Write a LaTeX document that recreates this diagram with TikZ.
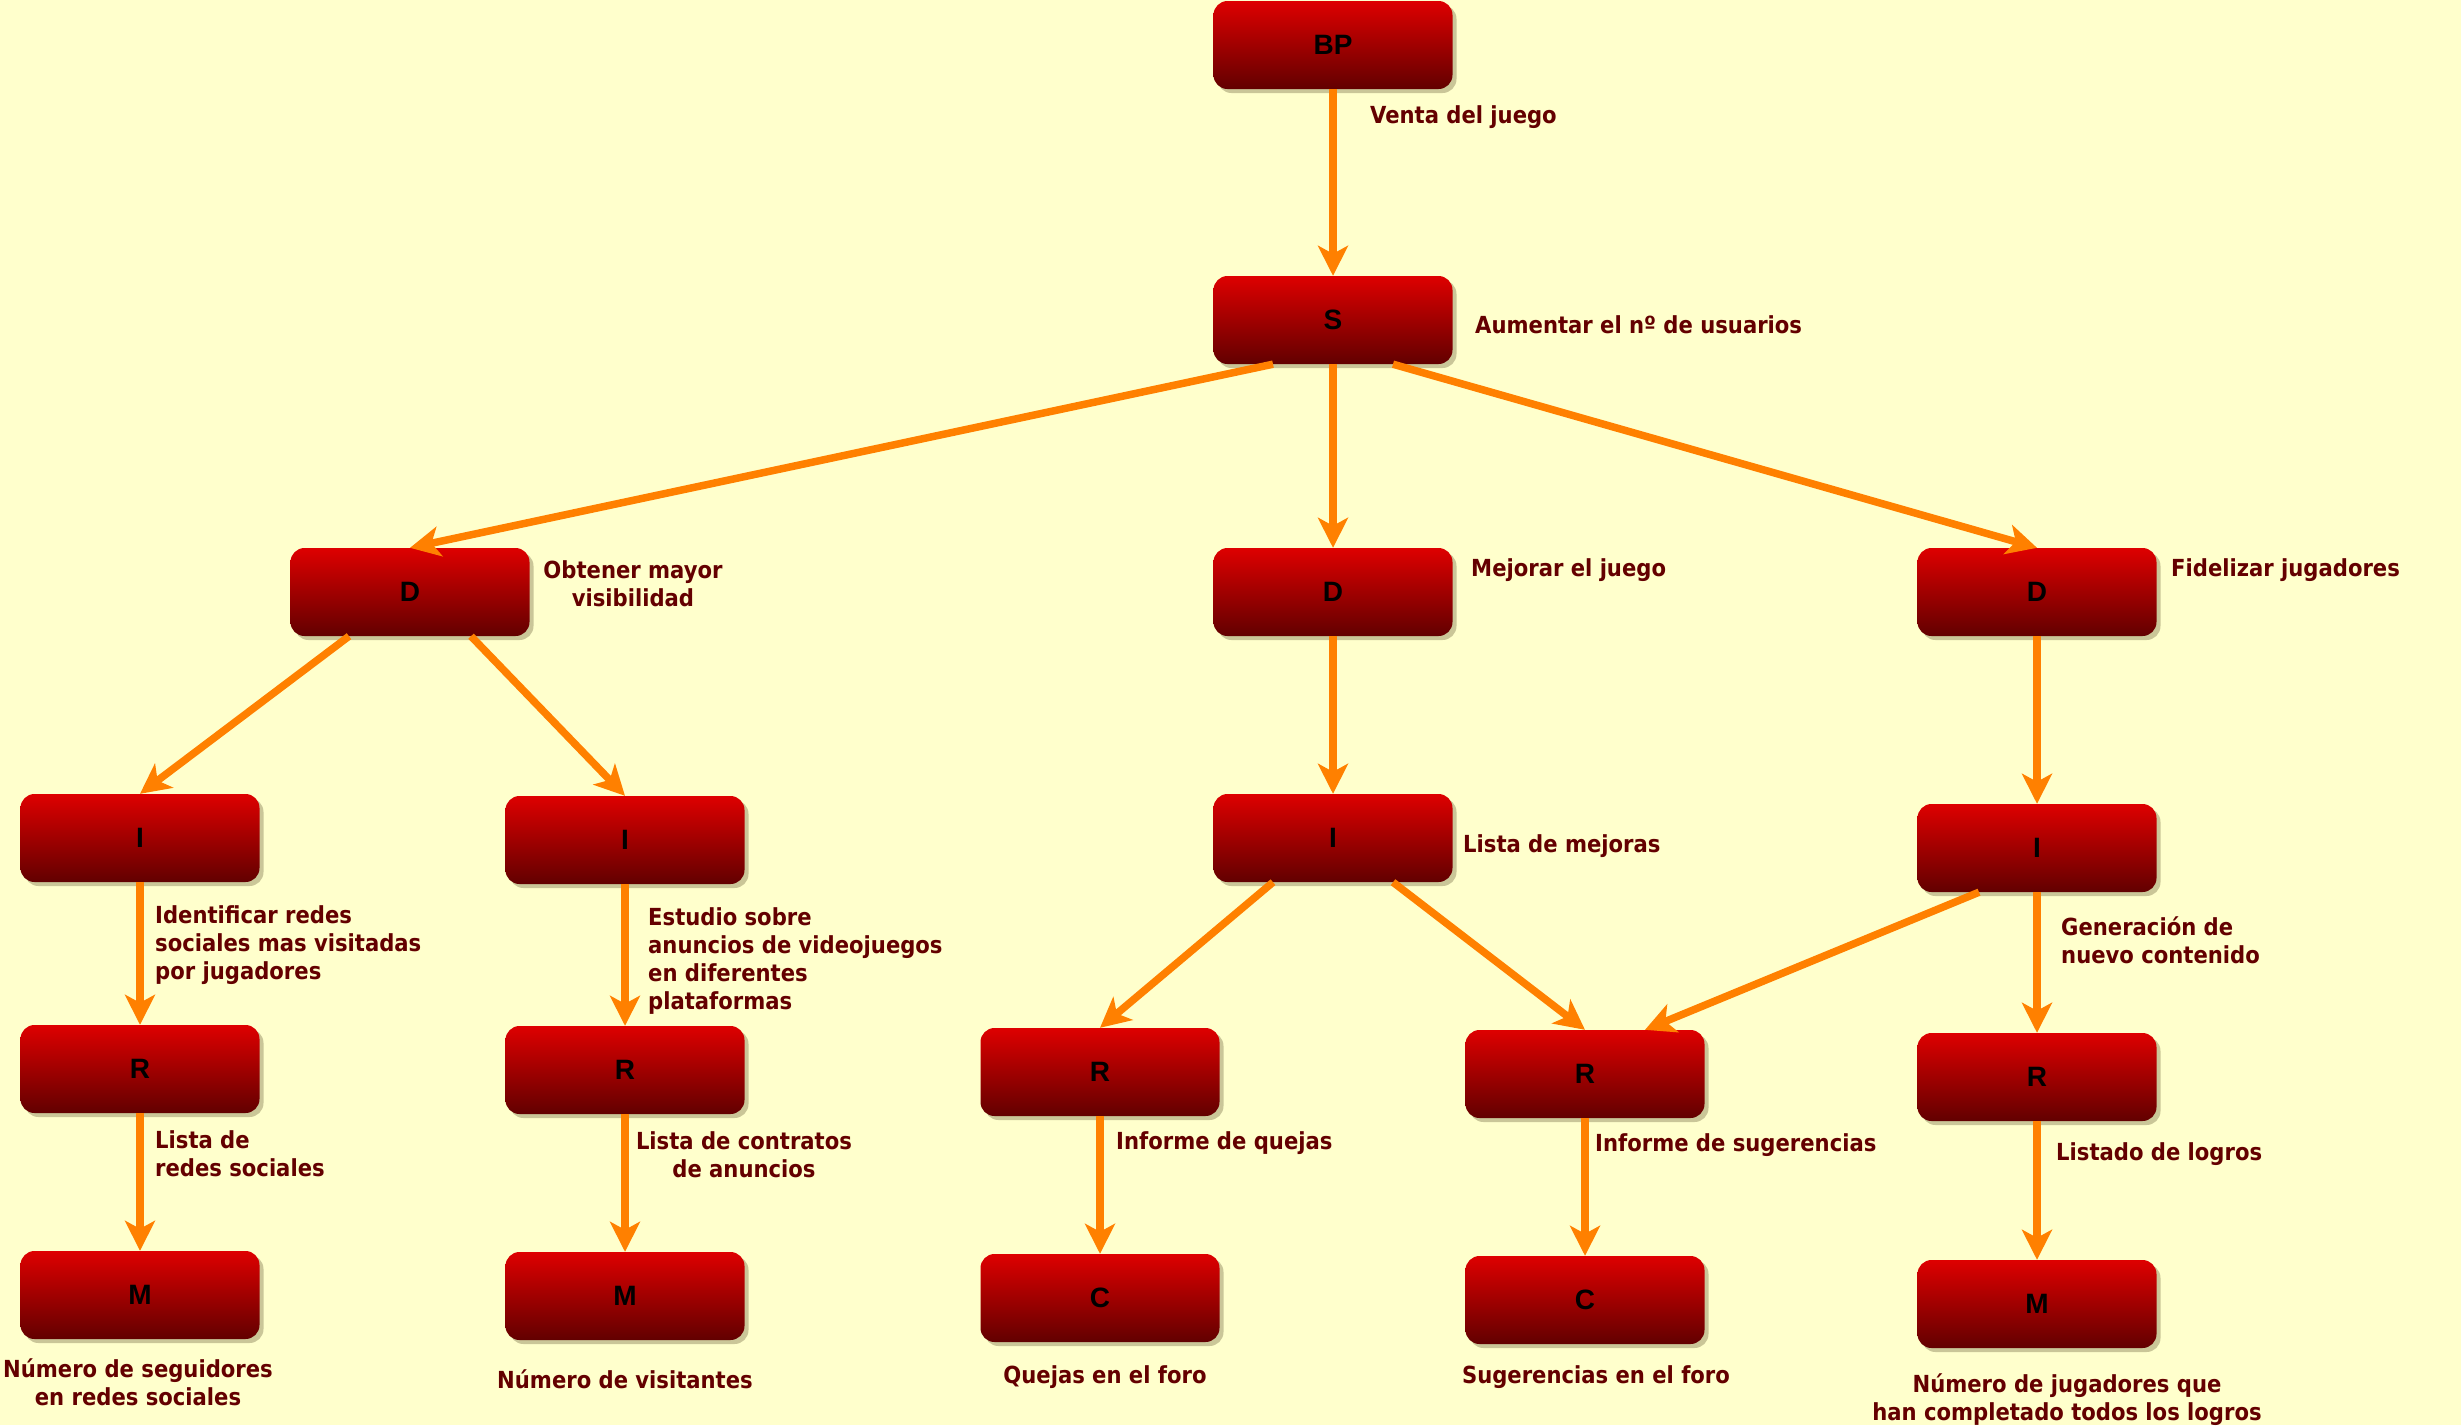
\documentclass[tikz,border=0pt]{standalone}
\usepackage{fontspec}
\usetikzlibrary{shadows,arrows.meta,calc}
\newfontfamily\lblfont{DejaVu Sans Condensed}
\newfontfamily\boxfont{Liberation Sans}
\definecolor{bgc}{RGB}{255,255,204}
\definecolor{txtc}{RGB}{100,0,0}
\definecolor{arrc}{RGB}{255,128,0}
\definecolor{topc}{RGB}{222,0,0}
\definecolor{botc}{RGB}{98,0,0}
\definecolor{shc}{RGB}{180,175,130}
\tikzset{
 box/.style={rounded corners=14pt, minimum width=239pt, minimum height=88pt, top color=topc, bottom color=botc, draw=none, font=\boxfont\bfseries\fontsize{28}{30}\selectfont, text=black, drop shadow={shadow xshift=4pt, shadow yshift=-4pt, fill=shc, opacity=0.7}},
 lbl/.style={inner sep=0pt, text=txtc, font=\lblfont\bfseries\fontsize{23.5}{28}\selectfont},
 conn/.style={draw=arrc, line width=7.5pt, -{Stealth[length=30pt,width=30pt,inset=8pt]}},
}
\begin{document}
\begin{tikzpicture}[x=1pt,y=-1pt]
\fill[bgc] (0,0) rectangle (2461,1425);
% boxes
\node[box] (BP) at (1333,45) {BP};
\node[box] (S) at (1333,320) {S};
\node[box] (D1) at (410,592) {D};
\node[box] (D2) at (1333,592) {D};
\node[box] (D3) at (2037,592) {D};
\node[box] (I1) at (140,838) {I};
\node[box] (I2) at (625,840) {I};
\node[box] (I3) at (1333,838) {I};
\node[box] (I4) at (2037,848) {I};
\node[box] (R1) at (140,1069) {R};
\node[box] (R2) at (625,1070) {R};
\node[box] (R3) at (1100,1072) {R};
\node[box] (R4) at (1585,1074) {R};
\node[box] (R5) at (2037,1077) {R};
\node[box] (M1) at (140,1295) {M};
\node[box] (M2) at (625,1296) {M};
\node[box] (C1) at (1100,1298) {C};
\node[box] (C2) at (1585,1300) {C};
\node[box] (M3) at (2037,1304) {M};
% connectors
\draw[conn] (BP.south) -- (S.north);
\draw[conn] ($(S.south)+(-60,0)$) -- (D1.north);
\draw[conn] (S.south) -- (D2.north);
\draw[conn] ($(S.south)+(60,0)$) -- (D3.north);
\draw[conn] ($(D1.south)+(-61,0)$) -- (I1.north);
\draw[conn] ($(D1.south)+(61,0)$) -- (I2.north);
\draw[conn] (D2.south) -- (I3.north);
\draw[conn] (D3.south) -- (I4.north);
\draw[conn] (I1.south) -- (R1.north);
\draw[conn] (I2.south) -- (R2.north);
\draw[conn] ($(I3.south)+(-60,0)$) -- (R3.north);
\draw[conn] ($(I3.south)+(60,0)$) -- (R4.north);
\draw[conn] ($(I4.south)+(-58,0)$) -- ($(R4.north)+(60,0)$);
\draw[conn] (I4.south) -- (R5.north);
\draw[conn] (R1.south) -- (M1.north);
\draw[conn] (R2.south) -- (M2.north);
\draw[conn] (R3.south) -- (C1.north);
\draw[conn] (R4.south) -- (C2.north);
\draw[conn] (R5.south) -- (M3.north);
% labels
\node[lbl,anchor=west] (t1) at (1370,117) {Venta del juego};
\node[lbl,anchor=west] (t2) at (1475,325) {Aumentar el nº de usuarios};
\node[lbl,align=center] (t3) at (633,584) {Obtener mayor\\visibilidad};
\node[lbl,anchor=west] (t4) at (1471,570) {Mejorar el juego};
\node[lbl,anchor=west] (t5) at (2171,570) {Fidelizar jugadores};
\node[lbl,anchor=west,align=left] (t6) at (155,945) {Identificar redes\\sociales mas visitadas\\por jugadores};
\node[lbl,anchor=west,align=left] (t7) at (648,961) {Estudio sobre\\anuncios de videojuegos\\en diferentes\\plataformas};
\node[lbl,anchor=west] (t8) at (1463,846) {Lista de mejoras};
\node[lbl,anchor=west,align=left] (t9) at (2061,940) {Generación de\\nuevo contenido};
\node[lbl,anchor=west,align=left] (t10) at (155,1154) {Lista de\\redes sociales};
\node[lbl,align=center] (t11) at (744,1155) {Lista de contratos\\de anuncios};
\node[lbl,anchor=west] (t12) at (1116,1143) {Informe de quejas};
\node[lbl,anchor=west] (t13) at (1595,1145) {Informe de sugerencias};
\node[lbl,anchor=west] (t14) at (2056,1154) {Listado de logros};
\node[lbl,align=center] (t15) at (138,1382) {Número de seguidores\\en redes sociales};
\node[lbl,align=center] (t16) at (625,1379) {Número de visitantes};
\node[lbl,align=center] (t17) at (1105,1377) {Quejas en el foro};
\node[lbl,align=center] (t18) at (1596,1377) {Sugerencias en el foro};
\node[lbl,align=center] (t19) at (2067,1400) {Número de jugadores que\\han completado todos los logros};
\end{tikzpicture}
\end{document}
